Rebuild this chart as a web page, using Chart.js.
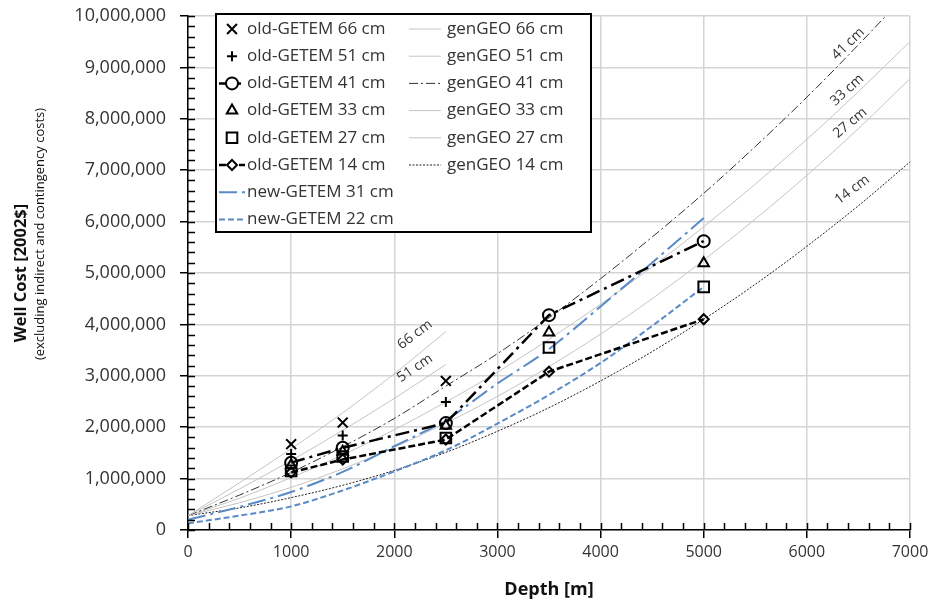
<!DOCTYPE html>
<html>
<head>
<meta charset="utf-8">
<script src="https://cdn.jsdelivr.net/npm/chart.js@4.4.1/dist/chart.umd.min.js"></script>
<style>
    html, body { margin: 0; padding: 0; background: #fff; }
    #wrap { width: 937px; height: 609px; }
</style>
</head>
<body>
<div id="wrap"><canvas id="chart" width="937" height="609"></canvas></div>
<script>
// ===== DATA (well cost in millions of 2002$, depth in m) =====
const oldDepths = [1000, 1500, 2500, 3500, 5000];
const old66 = [1.67, 2.09, 2.90];
const old51 = [1.48, 1.84, 2.49];
const old41 = [1.31, 1.60, 2.08, 4.18, 5.62];
const old33 = [1.26, 1.52, 2.03, 3.84, 5.19];
const old27 = [1.15, 1.43, 1.79, 3.55, 4.73];
const old14 = [1.12, 1.37, 1.76, 3.08, 4.10];

const newDepths = [0, 500, 1000, 1500, 2000, 2500, 3000, 3500, 4000, 4500, 5000];
const new31 = [0.20, 0.45, 0.74, 1.13, 1.63, 2.14, 2.85, 3.52, 4.35, 5.20, 6.07];
const new22 = [0.13, 0.28, 0.46, 0.77, 1.14, 1.55, 2.07, 2.63, 3.25, 3.97, 4.73];

const genShortDepths = [0, 500, 1000, 1500, 2000, 2500];
const gen66 = [0.28, 0.92, 1.58, 2.28, 3.04, 3.86];
const gen51 = [0.28, 0.80, 1.35, 1.94, 2.56, 3.22];

const genDepths = [0, 500, 1000, 1500, 2000, 2500, 3000, 3500, 4000, 4500, 5000, 5500, 6000, 6500, 7000];
const gen41 = [0.28, 0.68, 1.12, 1.62, 2.17, 2.80, 3.43, 4.13, 4.89, 5.70, 6.55, 7.46, 8.42, 9.44, 10.50];
const gen33 = [0.28, 0.62, 1.02, 1.46, 1.95, 2.49, 3.07, 3.71, 4.39, 5.12, 5.90, 6.73, 7.60, 8.53, 9.50];
const gen27 = [0.28, 0.53, 0.83, 1.19, 1.61, 2.08, 2.60, 3.18, 3.81, 4.50, 5.25, 6.05, 6.90, 7.81, 8.78];
const gen14 = [0.28, 0.43, 0.63, 0.87, 1.16, 1.51, 1.92, 2.38, 2.90, 3.47, 4.10, 4.78, 5.52, 6.31, 7.16];

const xTickValues = [0, 1000, 2000, 3000, 4000, 5000, 6000, 7000];
const yTickValues = [0, 1, 2, 3, 4, 5, 6, 7, 8, 9, 10];

const curveLabels = ["66 cm", "51 cm", "41 cm", "33 cm", "27 cm", "14 cm"];

function pts(xs, ys) {
    return ys.map((v, i) => ({ x: xs[i], y: v }));
}

const BLUE = "#5a8ac6";
const GREY = "#c4c4c4";

// ===== DATASETS =====
function markerSet(label, data, style, radius, col, row) {
    return {
        label: label, data: data, showLine: false, order: 0, tension: 0,
        pointStyle: style, pointRadius: radius, pointHoverRadius: radius,
        pointBorderColor: "#000", pointBackgroundColor: "rgba(0,0,0,0)", pointBorderWidth: 2,
        legendCol: col, legendRow: row,
    };
}

function curveSet(label, data, color, width, dash, col, row) {
    return {
        label: label, data: data, showLine: true, order: 3, tension: 0.4,
        borderColor: color, borderWidth: width, borderDash: dash,
        pointRadius: 0, cubicInterpolationMode: "monotone",
        legendCol: col, legendRow: row,
    };
}

const datasets = [
    markerSet("old-GETEM 66 cm", pts(oldDepths, old66), "crossRot", 7, 0, 0),
    markerSet("old-GETEM 51 cm", pts(oldDepths, old51), "cross", 5, 0, 1),
    Object.assign(markerSet("old-GETEM 41 cm", pts(oldDepths, old41), "circle", 6, 0, 2),
        { showLine: true, borderColor: "#000", borderWidth: 2.5, borderDash: [14, 5, 3, 5], order: 1 }),
    markerSet("old-GETEM 33 cm", pts(oldDepths, old33), "triangle", 6, 0, 3),
    markerSet("old-GETEM 27 cm", pts(oldDepths, old27), "rect", 7.5, 0, 4),
    Object.assign(markerSet("old-GETEM 14 cm", pts(oldDepths, old14), "rectRot", 5, 0, 5),
        { showLine: true, borderColor: "#000", borderWidth: 2.5, borderDash: [7, 3], order: 1 }),
    Object.assign(curveSet("new-GETEM 31 cm", pts(newDepths, new31), BLUE, 2, [18, 5, 3, 5], 0, 6), { order: 2 }),
    Object.assign(curveSet("new-GETEM 22 cm", pts(newDepths, new22), BLUE, 2, [6, 3], 0, 7), { order: 2 }),
    curveSet("genGEO 66 cm", pts(genShortDepths, gen66), GREY, 1, [], 1, 0),
    curveSet("genGEO 51 cm", pts(genShortDepths, gen51), GREY, 1, [], 1, 1),
    curveSet("genGEO 41 cm", pts(genDepths, gen41), "#333", 1, [9, 3, 2, 3], 1, 2),
    curveSet("genGEO 33 cm", pts(genDepths, gen33), GREY, 1, [], 1, 3),
    curveSet("genGEO 27 cm", pts(genDepths, gen27), GREY, 1, [], 1, 4),
    curveSet("genGEO 14 cm", pts(genDepths, gen14), "#222", 1, [2, 1.5], 1, 5),
];

// ===== PLUGINS =====
// inward major/minor tick marks
const innerTicks = {
    id: "innerTicks",
    afterDraw(chart) {
        const { ctx, chartArea: a, scales: { x, y } } = chart;
        ctx.save();
        ctx.strokeStyle = "#000";
        ctx.lineWidth = 1.5;
        ctx.beginPath();
        for (let v = 0; v <= 7000; v += 200) {
            const px = Math.round(x.getPixelForValue(v)) + 0.5;
            ctx.moveTo(px, a.bottom);
            ctx.lineTo(px, a.bottom - 7);
        }
        for (let v = 0; v <= 10.001; v += 0.2) {
            const py = Math.round(y.getPixelForValue(v)) + 0.5;
            ctx.moveTo(a.left, py);
            ctx.lineTo(a.left + 7, py);
        }
        ctx.stroke();
        ctx.restore();
    }
};

// curve annotations: [depth, cost, angle]
const curveLabelAt = [[2200, 3.80, -37], [2200, 3.15, -34], [6400, 9.46, -44], [6390, 8.56, -42], [6420, 7.92, -40], [6440, 6.62, -37]];
const curveNotes = {
    id: "curveNotes",
    afterDatasetsDraw(chart) {
        const { ctx, scales: { x, y } } = chart;
        ctx.save();
        ctx.fillStyle = "#333";
        ctx.font = "14px 'Open Sans'";
        ctx.textAlign = "center";
        ctx.textBaseline = "middle";
        curveLabels.forEach((t, i) => {
            const [d, c, ang] = curveLabelAt[i];
            ctx.save();
            ctx.translate(x.getPixelForValue(d), y.getPixelForValue(c));
            ctx.rotate(ang * Math.PI / 180);
            ctx.fillText(t, 0, 0);
            ctx.restore();
        });
        ctx.restore();
    }
};

// axis titles
const axisTitles = {
    id: "axisTitles",
    afterDraw(chart) {
        const { ctx, chartArea: a } = chart;
        ctx.save();
        ctx.fillStyle = "#111";
        ctx.textAlign = "center";
        ctx.textBaseline = "middle";
        ctx.font = "bold 18px 'Open Sans'";
        ctx.fillText("Depth [m]", (a.left + a.right) / 2, 590);
        ctx.translate(21, 273);
        ctx.rotate(-Math.PI / 2);
        ctx.font = "bold 16.5px 'Open Sans'";
        ctx.fillText("Well Cost [2002$]", 0, 0);
        ctx.font = "13px 'Open Sans'";
        ctx.fillText("(excluding indirect and contingency costs)", 39, 19);
        ctx.restore();
    }
};

// boxed two-column legend inside the plot
const boxLegend = {
    id: "boxLegend",
    afterDraw(chart) {
        const ctx = chart.ctx;
        ctx.save();
        ctx.fillStyle = "#fff";
        ctx.fillRect(216, 14, 375, 218);
        ctx.lineWidth = 2;
        ctx.strokeStyle = "#000";
        ctx.strokeRect(216, 14, 375, 218);

        const colX = [[219, 245, 232, 247], [409, 441, 425, 447]];
        chart.data.datasets.forEach(ds => {
            const [x0, x1, mx, tx] = colX[ds.legendCol];
            const ry = 29 + ds.legendRow * 27.2;
            if (ds.showLine) {
                ctx.save();
                ctx.strokeStyle = ds.borderColor;
                ctx.lineWidth = ds.borderWidth;
                ctx.setLineDash(ds.borderDash || []);
                ctx.beginPath();
                ctx.moveTo(x0, ry);
                ctx.lineTo(x1, ry);
                ctx.stroke();
                ctx.restore();
            }
            if (ds.pointStyle && ds.pointRadius > 0 && Chart.helpers && Chart.helpers.drawPoint) {
                ctx.save();
                ctx.strokeStyle = "#000";
                ctx.fillStyle = "#fff";
                ctx.lineWidth = 2;
                Chart.helpers.drawPoint(ctx, {
                    pointStyle: ds.pointStyle, radius: ds.pointRadius, rotation: 0, borderWidth: 2
                }, mx, ry);
                ctx.restore();
            }
            ctx.fillStyle = "#333";
            ctx.font = "17px 'Open Sans'";
            ctx.textAlign = "left";
            ctx.textBaseline = "middle";
            ctx.fillText(ds.label, tx, ry);
        });
        ctx.restore();
    }
};

// ===== CHART =====
Chart.defaults.font.family = "'Open Sans', sans-serif";
Chart.defaults.color = "#333";

new Chart(document.getElementById("chart"), {
    type: "line",
    data: { datasets: datasets },
    options: {
        responsive: false,
        animation: false,
        devicePixelRatio: 1,
        layout: { padding: { left: 0, right: 27, top: 16, bottom: 0 } },
        plugins: { legend: { display: false }, tooltip: { enabled: false } },
        scales: {
            x: {
                type: "linear", min: 0, max: 7000,
                afterBuildTicks: s => { s.ticks = xTickValues.map(v => ({ value: v })); },
                afterFit: s => { s.height = 79; s.paddingLeft = 0; s.paddingRight = 0; },
                ticks: { font: { size: 16 }, padding: 5, callback: v => String(v), maxRotation: 0 },
                grid: { color: "#d4d4d4", lineWidth: 1.5, tickColor: "#000", tickLength: 8 },
                border: { color: "#000", width: 1.5 },
            },
            y: {
                type: "linear", min: 0, max: 10,
                afterBuildTicks: s => { s.ticks = yTickValues.map(v => ({ value: v })); },
                afterFit: s => { s.width = 188; s.paddingTop = 0; s.paddingBottom = 0; },
                ticks: { font: { size: 18 }, padding: 14, callback: v => Math.round(v * 1e6).toLocaleString("en-US") },
                grid: { color: "#d4d4d4", lineWidth: 1.5, tickColor: "#000", tickLength: 8 },
                border: { color: "#000", width: 1.5 },
            },
        },
    },
    plugins: [innerTicks, curveNotes, axisTitles, boxLegend],
});
</script>
</body>
</html>
